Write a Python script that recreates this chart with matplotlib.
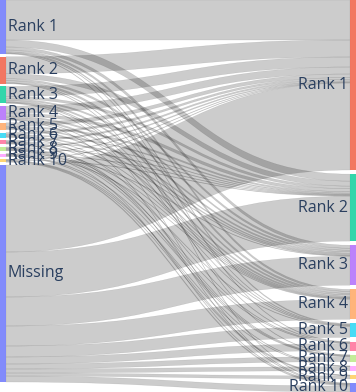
import numpy as np
import matplotlib.pyplot as plt
from matplotlib.path import Path
from matplotlib.patches import PathPatch, Rectangle

left_labels = ["Rank 1", "Rank 2", "Rank 3", "Rank 4", "Rank 5", "Rank 6",
               "Rank 7", "Rank 8", "Rank 9", "Rank 10", "Missing"]
right_labels = ["Rank 1", "Rank 2", "Rank 3", "Rank 4", "Rank 5", "Rank 6",
                "Rank 7", "Rank 8", "Rank 9", "Rank 10"]

# flow[i][j]: left node i -> right node j
flows = np.array([
    [40, 7, 3, 2, 1, 0.5, 0, 0, 0, 0.5],
    [17, 5, 2, 2, 0.5, 0, 0.5, 0, 0, 0],
    [10, 2.5, 1.5, 1.5, 0.5, 0.5, 0, 0, 0, 0.5],
    [7, 3, 1.5, 1.5, 0.5, 0, 0, 0, 0, 0.5],
    [3.5, 1.5, 1, 1, 0, 0, 0, 0, 0, 0],
    [2, 1, 1, 0.5, 0, 0.5, 0, 0, 0, 0],
    [1.5, 0.5, 0.5, 0.5, 0, 0, 0.5, 0.5, 0, 0],
    [1, 0.5, 0, 0.5, 0.5, 0.5, 0.5, 0, 0, 0.5],
    [0.5, 0.5, 0.5, 0.5, 0, 0, 0.5, 0, 0.5, 0],
    [0.5, 0.5, 0, 0, 0, 0, 0, 0.5, 0.5, 1],
    [87, 45, 29, 20, 11, 7, 5, 4, 3, 6],
])

plotly_colors = ["#636efa", "#EF553B", "#00cc96", "#ab63fa", "#FFA15A",
                 "#19d3f3", "#FF6692", "#B6E880", "#FF97FF", "#FECB52"]

W, H = 356, 392
node_w = 6
x_left, x_right = 0, W - node_w

left_vals = flows.sum(axis=1)
right_vals = flows.sum(axis=0)
total = flows.sum()

# layout: same scale for both columns
pad_left = 2.7
ky = (382 - pad_left * (len(left_vals) - 1)) / total
pad_right = (H - total * ky) / (len(right_vals) - 1)


def stack(vals, pad):
    tops = []
    y = 0
    for v in vals:
        tops.append(y)
        y += v * ky + pad
    return np.array(tops)


left_tops = stack(left_vals, pad_left)
right_tops = stack(right_vals, pad_right)

fig = plt.figure(figsize=(W / 100, H / 100), dpi=100)
ax = fig.add_axes([0, 0, 1, 1])
ax.set_xlim(0, W)
ax.set_ylim(H, 0)
ax.axis("off")

# where each link ends inside its target node (sorted by source)
src_off = left_tops.copy()
tgt_pos = {}
for j in range(len(right_vals)):
    y = right_tops[j]
    for i in range(len(left_vals)):
        tgt_pos[(i, j)] = y
        y += flows[i, j] * ky

x0 = x_left + node_w
x1 = x_right
xm = (x0 + x1) / 2
for i in range(len(left_vals)):
    for j in range(len(right_vals)):
        w = flows[i, j] * ky
        if w <= 0:
            continue
        a0 = src_off[i]
        a1 = a0 + w
        src_off[i] = a1
        b0 = tgt_pos[(i, j)]
        b1 = b0 + w
        verts = [(x0, a0), (xm, a0), (xm, b0), (x1, b0),
                 (x1, b1), (xm, b1), (xm, a1), (x0, a1), (x0, a0)]
        codes = [Path.MOVETO, Path.CURVE4, Path.CURVE4, Path.CURVE4,
                 Path.LINETO, Path.CURVE4, Path.CURVE4, Path.CURVE4,
                 Path.CLOSEPOLY]
        ax.add_patch(PathPatch(Path(verts, codes), facecolor=(0, 0, 0, 0.2),
                               edgecolor=(0.3, 0.3, 0.3, 0.2), lw=0.3))

for i, lab in enumerate(left_labels):
    h = left_vals[i] * ky
    ax.add_patch(Rectangle((x_left, left_tops[i]), node_w, h,
                           color=plotly_colors[i % 10], alpha=0.8, lw=0))
    ax.text(x_left + node_w + 1.5, left_tops[i] + h / 2, lab, ha="left",
            va="center", fontsize=11.5, family="Open Sans", color="#2a3f5f")

for j, lab in enumerate(right_labels):
    h = right_vals[j] * ky
    ax.add_patch(Rectangle((x_right, right_tops[j]), node_w, h,
                           color=plotly_colors[(j + 11) % 10], alpha=0.8, lw=0))
    ax.text(x_right - 1.5, right_tops[j] + h / 2, lab, ha="right",
            va="center", fontsize=11.5, family="Open Sans", color="#2a3f5f")

fig.savefig("out.png", dpi=100)
